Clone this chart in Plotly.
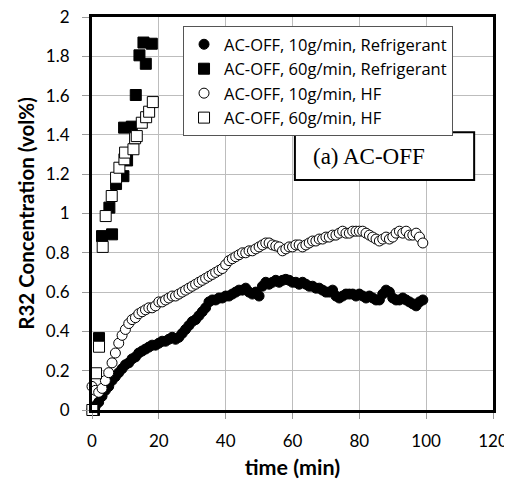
import plotly.graph_objects as go

# --- data ---
t_10 = list(range(0, 100))
ref_10 = [0.00, 0.02, 0.04, 0.07, 0.10, 0.12, 0.15, 0.17, 0.19, 0.21,
          0.23, 0.24, 0.26, 0.27, 0.29, 0.30, 0.31, 0.32, 0.33, 0.33,
          0.34, 0.35, 0.35, 0.36, 0.37, 0.36, 0.37, 0.39, 0.41, 0.43,
          0.45, 0.46, 0.48, 0.50, 0.52, 0.55, 0.56, 0.56, 0.57, 0.57,
          0.58, 0.58, 0.59, 0.60, 0.61, 0.61, 0.62, 0.60, 0.59, 0.60,
          0.58, 0.63, 0.65, 0.64, 0.65, 0.66, 0.65, 0.66, 0.665, 0.66,
          0.65, 0.65, 0.64, 0.65, 0.64, 0.63, 0.63, 0.62, 0.62, 0.61,
          0.60, 0.60, 0.61, 0.58, 0.57, 0.58, 0.59, 0.59, 0.59, 0.58,
          0.59, 0.58, 0.57, 0.58, 0.57, 0.56, 0.56, 0.59, 0.61, 0.60,
          0.57, 0.56, 0.56, 0.57, 0.56, 0.55, 0.54, 0.53, 0.55, 0.56]
hf_10 = [0.12, 0.10, 0.09, 0.11, 0.15, 0.19, 0.24, 0.29, 0.34, 0.38,
         0.41, 0.44, 0.46, 0.47, 0.49, 0.50, 0.51, 0.52, 0.52, 0.53,
         0.55, 0.55, 0.56, 0.57, 0.58, 0.58, 0.59, 0.60, 0.61, 0.62,
         0.63, 0.64, 0.65, 0.66, 0.67, 0.68, 0.69, 0.70, 0.71, 0.72,
         0.74, 0.76, 0.77, 0.78, 0.79, 0.80, 0.80, 0.81, 0.81, 0.82,
         0.83, 0.84, 0.85, 0.85, 0.84, 0.835, 0.83, 0.81, 0.82, 0.83,
         0.83, 0.84, 0.84, 0.83, 0.84, 0.85, 0.86, 0.86, 0.87, 0.87,
         0.88, 0.88, 0.89, 0.89, 0.90, 0.91, 0.90, 0.90, 0.91, 0.91,
         0.91, 0.91, 0.90, 0.89, 0.88, 0.87, 0.86, 0.87, 0.88, 0.87,
         0.88, 0.90, 0.91, 0.90, 0.91, 0.89, 0.89, 0.90, 0.88, 0.85]

t_60_ref = [0.6, 2.1, 3.0, 5.2, 6.0, 7.2, 9.4, 10.5, 9.6, 11.9, 13.1, 14.2, 15.4, 16.1, 17.9]
ref_60 = [0.0, 0.366, 0.885, 1.03, 0.894, 1.15, 1.19, 1.27, 1.437, 1.442, 1.603, 1.805, 1.87, 1.762, 1.864]

t_60_hf = [0.1, 1.2, 2.1, 3.2, 4.1, 5.9, 7.2, 8.2, 9.7, 9.9, 12.4, 12.9, 13.4, 14.9, 16.2, 17.1, 18.2]
hf_60 = [0.0, 0.187, 0.322, 0.83, 0.987, 1.089, 1.182, 1.233, 1.276, 1.31, 1.327, 1.383, 1.394, 1.462, 1.49, 1.518, 1.567]

names = ["AC-OFF, 10g/min, Refrigerant", "AC-OFF, 60g/min, Refrigerant",
         "AC-OFF, 10g/min, HF", "AC-OFF, 60g/min, HF"]

FONT = "Lato"

fig = go.Figure()
fig.add_trace(go.Scatter(x=t_10, y=ref_10, mode="markers", name=names[0], cliponaxis=False,
                         marker=dict(symbol="circle", size=10, color="black",
                                     line=dict(color="black", width=1))))
fig.add_trace(go.Scatter(x=t_60_ref, y=ref_60, mode="markers", name=names[1], cliponaxis=False,
                         marker=dict(symbol="square", size=11, color="black",
                                     line=dict(color="black", width=1))))
fig.add_trace(go.Scatter(x=t_10, y=hf_10, mode="markers", name=names[2], cliponaxis=False,
                         marker=dict(symbol="circle", size=10, color="white",
                                     line=dict(color="black", width=1))))
fig.add_trace(go.Scatter(x=t_60_hf, y=hf_60, mode="markers", name=names[3], cliponaxis=False,
                         marker=dict(symbol="square", size=11, color="white",
                                     line=dict(color="black", width=1))))

# page body has an 8px default margin, so the figure is sized 504x472
fig.update_layout(
    width=504, height=472,
    margin=dict(l=84, r=19, t=9, b=70, autoexpand=False),
    paper_bgcolor="white", plot_bgcolor="white",
    font=dict(family=FONT, size=17, color="black"),
    legend=dict(x=0.227, y=0.977, xanchor="left", yanchor="top",
                bgcolor="white", bordercolor="#555555", borderwidth=1,
                font=dict(family="Open Sans", size=16.5, color="black"),
                itemwidth=30, tracegroupgap=0),
    showlegend=True,
)
fig.update_xaxes(range=[0, 120], dtick=20, tick0=0, automargin=False,
                 showgrid=True, gridcolor="#bdbdbd", gridwidth=1,
                 showline=True, linecolor="black", linewidth=3, mirror=True,
                 ticks="outside", ticklen=6, tickcolor="#999999",
                 ticklabelstandoff=8, ticklabeloverflow="allow",
                 zeroline=False,
                 title=dict(text="<b>time (min)</b>", font=dict(family=FONT, size=21.5), standoff=13),
                 tickfont=dict(family=FONT, size=17))
fig.update_yaxes(range=[0, 2], dtick=0.2, tick0=0, automargin=False,
                 showgrid=True, gridcolor="#bdbdbd", gridwidth=1,
                 showline=True, linecolor="black", linewidth=3, mirror=True,
                 zeroline=False,
                 ticks="outside", ticklen=7, tickcolor="#999999",
                 ticklabelstandoff=9, ticklabeloverflow="allow",
                 title=dict(text="<b>R32 Concentration (vol%)</b>", font=dict(family=FONT, size=20.5), standoff=6),
                 tickfont=dict(family=FONT, size=17))

fig.add_shape(type="rect", xref="paper", yref="paper",
              x0=0.506, x1=0.953, y0=0.585, y1=0.707,
              line=dict(color="black", width=2), fillcolor="white", layer="above")
fig.add_annotation(x=0.545, y=0.644, xref="paper", yref="paper",
                   xanchor="left", yanchor="middle", showarrow=False,
                   text="(a) AC-OFF",
                   font=dict(family="Liberation Serif", size=23, color="black"))

fig.write_html("out.html")
